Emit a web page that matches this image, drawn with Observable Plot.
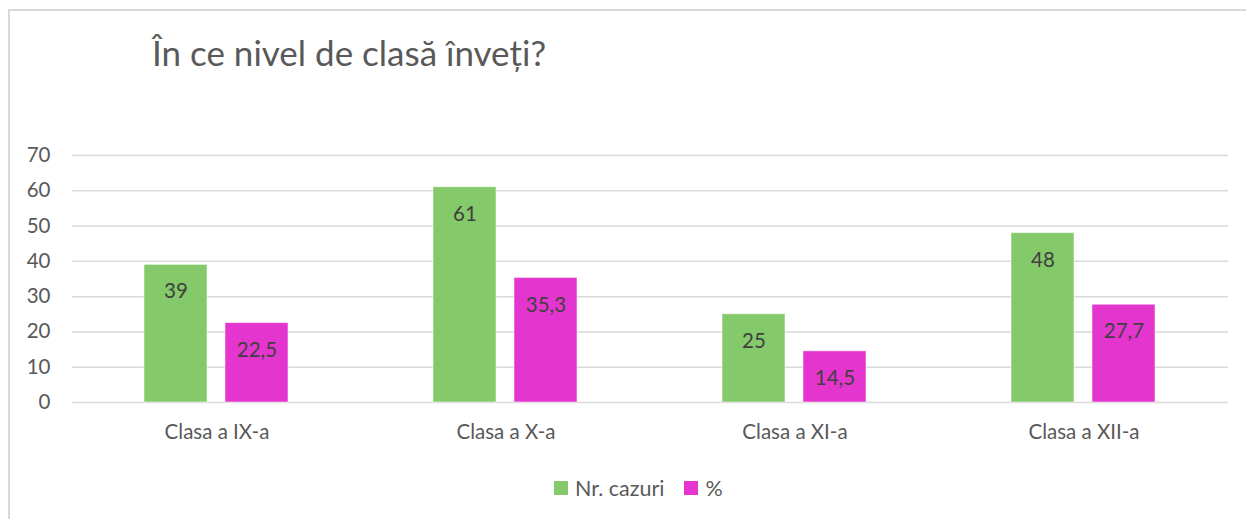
<!DOCTYPE html>
<html>
<head>
<meta charset="utf-8">
<script src="https://cdn.jsdelivr.net/npm/d3@7"></script>
<script src="https://cdn.jsdelivr.net/npm/@observablehq/plot@0.6"></script>
<style>
  html, body { margin: 0; padding: 0; background: #fff; }
  body { width: 1246px; height: 519px; position: relative; overflow: hidden; font-family: Lato, "Open Sans", sans-serif; }
  #frame { position: absolute; left: 8px; top: 9px; width: 1250px; height: 520px; border-left: 2px solid #d9d9d9; border-top: 2px solid #d9d9d9; }
  #title { position: absolute; left: 152px; top: 31px; font-size: 35px; color: #595959; white-space: nowrap; }
  #chart { position: absolute; left: 0; top: 140px; }
  #legend { position: absolute; top: 475px; left: 554px; font-size: 21.5px; color: #595959; display: flex; align-items: center; white-space: nowrap; }
  .sw { display: inline-block; width: 14px; height: 14px; margin-right: 7px; }
</style>
</head>
<body>
<div id="frame"></div>
<div id="title">În ce nivel de clasă înveți?</div>
<div id="chart"></div>
<div id="legend"></div>
<script>
const categories = ["Clasa a IX-a", "Clasa a X-a", "Clasa a XI-a", "Clasa a XII-a"];
const seriesNames = ["Nr. cazuri", "%"];
const nrCazuri = [39, 61, 25, 48];
const procent = [22.5, 35.3, 14.5, 27.7];
const colors = ["#84c96a", "#e535cf"];
const yTicks = [0, 10, 20, 30, 40, 50, 60, 70];

const data = [];
categories.forEach((c, i) => {
  data.push({cls: c, series: seriesNames[0], value: nrCazuri[i]});
  data.push({cls: c, series: seriesNames[1], value: procent[i]});
});

const fmt = v => String(v).replace(".", ",");

const plot = Plot.plot({
  width: 1246,
  height: 320,
  marginTop: 15,
  marginBottom: 58,
  marginLeft: 72,
  marginRight: 18,
  style: {fontFamily: "Lato, 'Open Sans', sans-serif", fontSize: "20.5px", color: "#595959", background: "transparent"},
  fx: {domain: categories, padding: 0, label: null},
  x: {domain: seriesNames, paddingInner: 0.2195, paddingOuter: 0.872, axis: null},
  y: {domain: [0, 70], label: null},
  color: {domain: seriesNames, range: colors},
  marks: [
    Plot.ruleY(yTicks, {stroke: "#d9d9d9", strokeWidth: 1.5}),
    Plot.axisY(yTicks, {tickSize: 0, tickPadding: 22, fontSize: 20.5, fill: "#595959", label: null}),
    Plot.axisFx({anchor: "bottom", tickSize: 0, tickPadding: 22, fontSize: 20.5, fill: "#595959", label: null}),
    Plot.barY(data, {fx: "cls", x: "series", y: "value", fill: "series", stroke: "#ffffff", strokeOpacity: 0.5, strokeWidth: 1}),
    Plot.text(data, {fx: "cls", x: "series", y: "value", text: d => fmt(d.value), dy: 27, fill: "#404040", fontSize: 20.5})
  ]
});
document.getElementById("chart").appendChild(plot);

const legend = document.getElementById("legend");
seriesNames.forEach((s, i) => {
  const item = document.createElement("span");
  item.style.display = "inline-flex";
  item.style.alignItems = "center";
  item.style.marginRight = i === 0 ? "20px" : "0";
  const sw = document.createElement("span");
  sw.className = "sw";
  sw.style.background = colors[i];
  item.appendChild(sw);
  item.appendChild(document.createTextNode(s));
  legend.appendChild(item);
});
</script>
</body>
</html>
